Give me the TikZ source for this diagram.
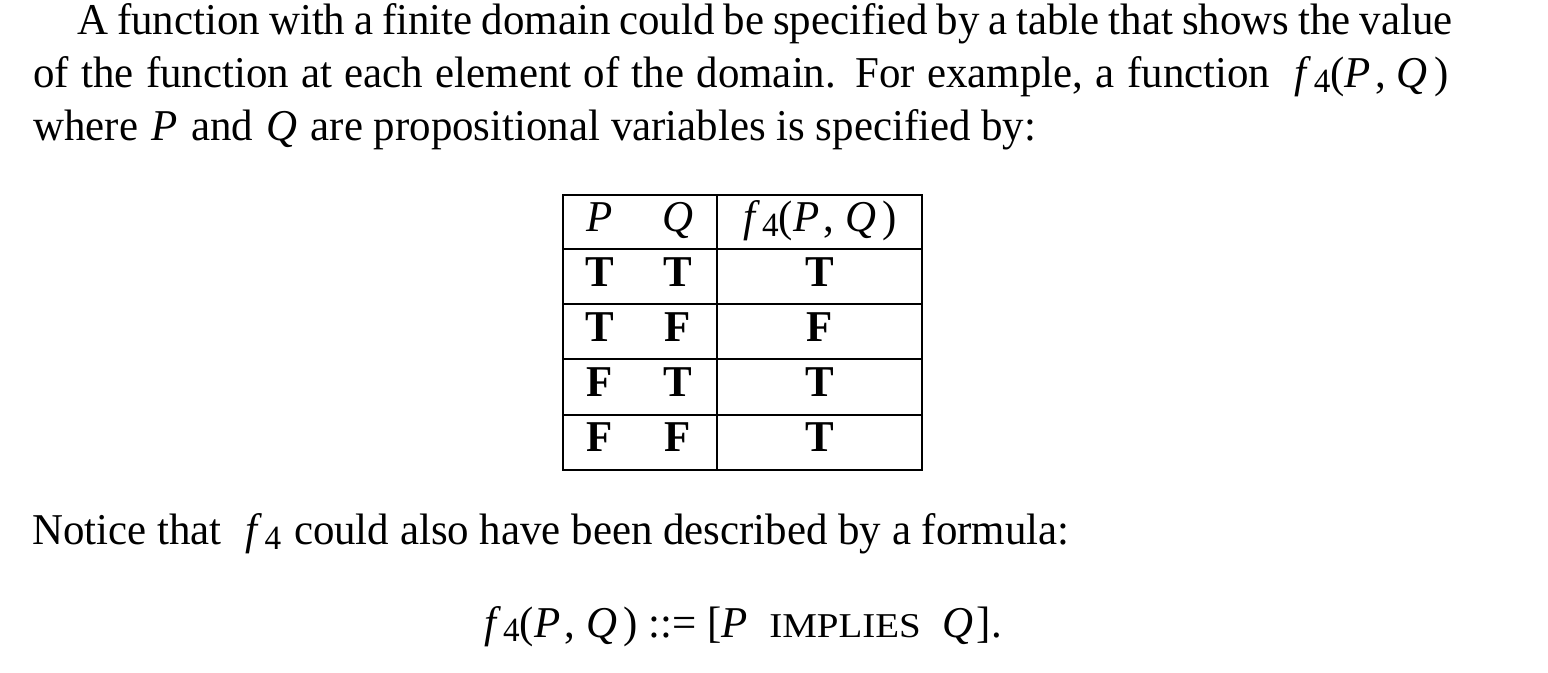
\documentclass[tikz,border=0pt]{standalone}
\usepackage{fontspec}
\setmainfont[FakeStretch=0.975]{Liberation Serif}
\newfontfamily\scfont[FakeStretch=1.12]{Liberation Serif}
\newcommand\mysub[1]{\raisebox{-0.11em}{\fontsize{17pt}{17pt}\selectfont #1}}
\newcommand\mi[1]{\kern0.06em\relax\textit{#1}\kern0.06em\relax}
\newcommand\ffour{\textit{f}\kern0.05em\relax\mysub{4}}
\newcommand\fPQ{\ffour(\textit{P}\kern0.1em,\kern0.25em\textit{Q}\kern0.14em\relax)}
\newcommand\smallcap[1]{{\scfont\fontsize{17.4pt}{17.4pt}\selectfont #1}}
\tikzset{
  txt/.style={inner sep=0pt, anchor=base west, font=\fontsize{22pt}{26.4pt}\selectfont},
  cell/.style={inner sep=0pt, anchor=base, font=\fontsize{22pt}{26.4pt}\selectfont},
  rule/.style={line width=0.9pt, black}
}
\begin{document}
\begin{tikzpicture}[x=0.5pt,y=-0.5pt]
\useasboundingbox (0,0) rectangle (1548,673);
\fill[white] (0,0) rectangle (1548,673);
% paragraph
\node[txt] (l1) at (77,35) {\hbox to 687.5pt{A function with a finite domain could be specified by a table that shows the value}};
\node[txt] (l2) at (33,88) {\hbox to 707.5pt{of the function at each element of the domain. For example, a function \ \fPQ}};
\node[txt] (l3) at (33,141) {where \mi{P} and \mi{Q} are propositional variables is specified by:};
% table
\draw[rule] (563,195) rectangle (922,470);
\draw[rule] (717,195) -- (717,470);
\foreach \y in {249,304,359,415} \draw[rule] (563,\y) -- (922,\y);
\node[cell] (hp) at (600,232) {\textit{P}};
\node[cell] (hq) at (678,232) {\textit{Q}};
\node[cell] (hf) at (820,232) {\fPQ};
\node[cell] (p1) at (600,287) {\textbf{T}};
\node[cell] (q1) at (678,287) {\textbf{T}};
\node[cell] (f1) at (820,287) {\textbf{T}};
\node[cell] (p2) at (600,342) {\textbf{T}};
\node[cell] (q2) at (678,342) {\textbf{F}};
\node[cell] (f2) at (820,342) {\textbf{F}};
\node[cell] (p3) at (600,397) {\textbf{F}};
\node[cell] (q3) at (678,397) {\textbf{T}};
\node[cell] (f3) at (820,397) {\textbf{T}};
\node[cell] (p4) at (600,452) {\textbf{F}};
\node[cell] (q4) at (678,452) {\textbf{F}};
\node[cell] (f4) at (820,452) {\textbf{T}};
% after table
\node[txt] (l4) at (32,545) {Notice that \ \kern0.05em\relax\ffour\ \kern0.05em\relax could also have been described by a formula:};
\node[cell] (form) at (743,637) {\fPQ\ ::=\ [\textit{P}\ \ \smallcap{IMPLIES}\ \ \textit{Q}\kern0.08em\relax].};
\end{tikzpicture}
\end{document}
